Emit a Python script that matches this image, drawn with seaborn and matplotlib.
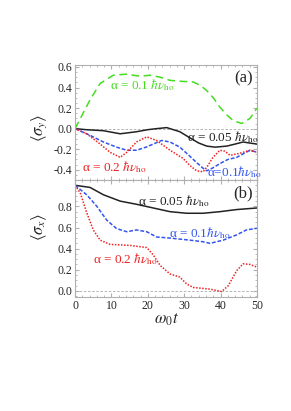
import numpy as np
import pandas as pd
import matplotlib
matplotlib.use("Agg")
import matplotlib.pyplot as plt
from matplotlib.ticker import MultipleLocator
import seaborn as sns

# ---- data ----
t_green_a = [0, 4.1, 6.9, 10.5, 14, 17.9, 20.6, 23.5, 26.1, 29.5, 32.4, 34.5, 36.2, 38, 39.8, 41.5, 43.4, 45.8, 48.1, 50]
v_green_a = [0, 0.28, 0.44, 0.52, 0.53, 0.51, 0.52, 0.50, 0.47, 0.46, 0.455, 0.42, 0.37, 0.30, 0.21, 0.14, 0.08, 0.05, 0.10, 0.20]

t_black_a = [0, 3, 7.8, 12.4, 16.9, 20, 22.4, 25.2, 28.8, 31.6, 34, 36.2, 38.5, 41.7, 44, 46.2, 48, 50]
v_black_a = [0, -0.01, -0.02, -0.05, -0.03, -0.01, 0.0, 0.01, -0.03, -0.09, -0.14, -0.17, -0.18, -0.17, -0.15, -0.13, -0.14, -0.15]

t_blue_a = [0, 4.1, 7.8, 11.4, 14.2, 16.9, 19.5, 21.5, 23.8, 26.1, 28.8, 31.6, 33.4, 35, 36.2, 38, 39.8, 42, 44.4, 46.5, 48.1, 50]
v_blue_a = [0, -0.065, -0.13, -0.18, -0.21, -0.21, -0.18, -0.15, -0.115, -0.13, -0.18, -0.27, -0.33, -0.38, -0.41, -0.38, -0.34, -0.30, -0.28, -0.24, -0.21, -0.23]

t_red_a = [0, 3.2, 6.9, 9.6, 12.4, 14.2, 16.9, 19.7, 22.4, 26.1, 29.7, 31.6, 33.4, 35.2, 36.5, 37.9, 39.8, 41.2, 42.6, 45.3, 48.1, 50]
v_red_a = [0, -0.05, -0.15, -0.23, -0.28, -0.23, -0.13, -0.08, -0.115, -0.21, -0.29, -0.36, -0.41, -0.42, -0.36, -0.28, -0.21, -0.22, -0.26, -0.24, -0.21, -0.23]

t_black_b = [0, 4.1, 7.8, 12.4, 16.9, 21.5, 26.1, 30.7, 35.2, 39.8, 44.4, 50]
v_black_b = [1.0, 0.98, 0.91, 0.85, 0.82, 0.785, 0.75, 0.735, 0.735, 0.75, 0.77, 0.785]

t_blue_b = [0, 3.2, 6.0, 8.7, 11.4, 14.2, 16.9, 19.7, 22.4, 26.1, 31.6, 35.2, 37.1, 40.7, 44.4, 47.1, 50]
v_blue_b = [1.0, 0.91, 0.80, 0.67, 0.59, 0.56, 0.577, 0.56, 0.51, 0.50, 0.48, 0.465, 0.45, 0.48, 0.53, 0.577, 0.593]

t_red_b = [0, 1.4, 3.2, 5.0, 6.9, 9.6, 15.1, 19.7, 21.5, 23.4, 26.1, 28.8, 30.7, 32.5, 37.1, 40.3, 42.1, 44.4, 46.2, 48.1, 50]
v_red_b = [1.0, 0.93, 0.74, 0.577, 0.48, 0.44, 0.43, 0.41, 0.34, 0.24, 0.16, 0.13, 0.064, 0.032, 0.016, -0.007, 0.048, 0.19, 0.256, 0.25, 0.224]

yticks_a = [-0.4, -0.2, 0.0, 0.2, 0.4, 0.6]
yticks_b = [0.0, 0.2, 0.4, 0.6, 0.8]
xticks = [0, 10, 20, 30, 40, 50]

# ---- style ----
sns.set_style("ticks")
plt.rcParams["font.family"] = ["Liberation Serif", "DejaVu Serif"]
plt.rcParams["mathtext.fontset"] = "stix"

GREEN = "#44dd22"
BLACK = "#222222"
BLUE = "#3355ee"
RED = "#ee2222"
SPINE = "#b0b0b0"

fig = plt.figure(figsize=(2.91, 4.11), dpi=100)
ax1 = fig.add_axes([0.258, 0.562, 0.625, 0.280])
ax2 = fig.add_axes([0.258, 0.277, 0.625, 0.285])

def draw(ax, t, v, color, ls, lw=1.1):
    df = pd.DataFrame({"t": t, "v": v})
    sns.lineplot(data=df, x="t", y="v", ax=ax, color=color, linestyle=ls,
                 linewidth=lw, estimator=None, sort=True)

draw(ax1, t_green_a, v_green_a, GREEN, (0, (5, 3)))
draw(ax1, t_black_a, v_black_a, BLACK, "-")
draw(ax1, t_blue_a, v_blue_a, BLUE, (0, (2.5, 1.2)))
draw(ax1, t_red_a, v_red_a, RED, (0, (1, 1)))

draw(ax2, t_black_b, v_black_b, BLACK, "-")
draw(ax2, t_blue_b, v_blue_b, BLUE, (0, (2.5, 1.2)))
draw(ax2, t_red_b, v_red_b, RED, (0, (1, 1)))

for ax in (ax1, ax2):
    ax.set_xlim(0, 50)
    ax.set_xticks(xticks)
    ax.xaxis.set_minor_locator(MultipleLocator(2))
    ax.yaxis.set_minor_locator(MultipleLocator(0.05))
    ax.tick_params(which="both", direction="in", color=SPINE, top=True, right=True,
                   labelsize=8.5, pad=2)
    ax.tick_params(which="major", length=3)
    ax.tick_params(which="minor", length=1.5)
    for s in ax.spines.values():
        s.set_color(SPINE)
        s.set_linewidth(0.8)
    ax.axhline(0, color="#aaaaaa", lw=0.6, ls=(0, (3, 2)), zorder=0)
    ax.set_xlabel("")
    ax.set_ylabel("")

ax1.set_ylim(-0.5, 0.62)
ax1.set_yticks(yticks_a)
ax1.set_yticklabels(["-0.4", "-0.2", "0.0", "0.2", "0.4", "0.6"])
ax1.tick_params(labelbottom=False)
ax2.set_ylim(-0.06, 1.05)
ax2.set_yticks(yticks_b)
ax2.set_yticklabels(["0.0", "0.2", "0.4", "0.6", "0.8"])
ax2.set_xticklabels([str(x) for x in xticks])

ax1.set_ylabel(r"$\langle\sigma_y\rangle$", fontsize=12)
ax2.set_ylabel(r"$\langle\sigma_x\rangle$", fontsize=12)
ax1.yaxis.set_label_coords(-0.145, 0.45)
ax2.yaxis.set_label_coords(-0.145, 0.6)
ax2.set_xlabel(r"$\omega_0 t$", fontsize=12, labelpad=0)

fs = 9.5
ax1.text(9.6, 0.42, r"α = 0.1 $\hbar\nu_{\rm ho}$", color=GREEN, fontsize=fs, va="center")
ax1.text(30.7, -0.08, r"α = 0.05 $\hbar\nu_{\rm ho}$", color=BLACK, fontsize=fs, va="center")
ax1.text(1.8, -0.37, r"α = 0.2 $\hbar\nu_{\rm ho}$", color=RED, fontsize=fs, va="center")
ax1.text(36.3, -0.42, r"α=0.1$\hbar\nu_{\rm ho}$", color=BLUE, fontsize=fs, va="center")
ax1.text(0.98, 0.95, "(a)", transform=ax1.transAxes, fontsize=12, ha="right", va="top")

ax2.text(17.4, 0.85, r"α = 0.05 $\hbar\nu_{\rm ho}$", color=BLACK, fontsize=fs, va="center")
ax2.text(25.9, 0.55, r"α = 0.1$\hbar\nu_{\rm ho}$", color=BLUE, fontsize=fs, va="center")
ax2.text(4.9, 0.305, r"α = 0.2 $\hbar\nu_{\rm ho}$", color=RED, fontsize=fs, va="center")
ax2.text(0.98, 0.95, "(b)", transform=ax2.transAxes, fontsize=12, ha="right", va="top")

fig.savefig("out.png", dpi=100)
